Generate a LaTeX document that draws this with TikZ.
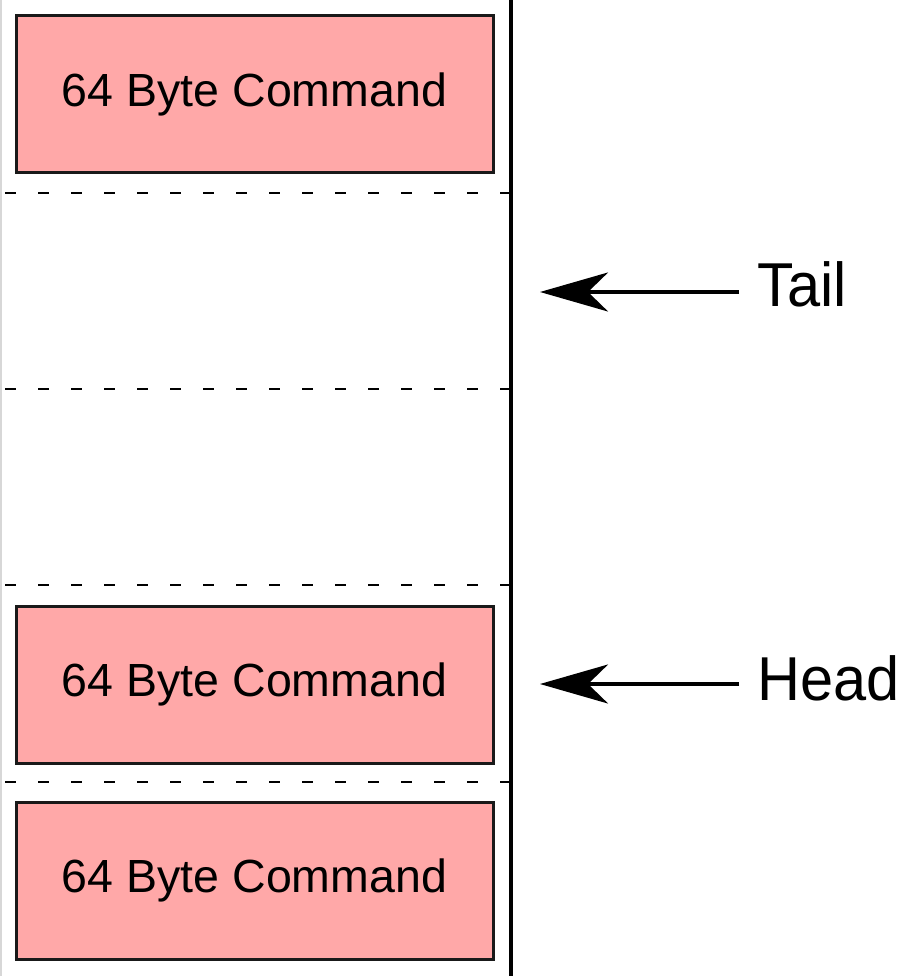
\documentclass[tikz,border=0pt]{standalone}
\usepackage{fontspec}
\setmainfont{Liberation Sans}
\usetikzlibrary{arrows.meta}

\definecolor{cmdfill}{RGB}{255,168,168}
\definecolor{edgegray}{RGB}{215,215,215}

\tikzset{
  cmdbox/.style={draw=black!90, line width=3pt, fill=cmdfill,
    minimum width=477pt, minimum height=157pt, inner sep=0pt,
    font=\fontsize{46.5}{52}\selectfont},
  slotsep/.style={line width=2.5pt, dash pattern=on 11pt off 22pt},
  pointer/.style={line width=3.5pt,
    -{Stealth[length=68pt, width=39pt, inset=20pt]}},
  ptrlabel/.style={anchor=base west, inner sep=0pt,
    font=\fontsize{62}{70}\selectfont}
}

\begin{document}
\begin{tikzpicture}[x=1pt, y=1pt]
  \useasboundingbox (0,0) rectangle (898,-976);

  % queue memory: left edge and right wall
  \draw[edgegray, line width=1.8pt] (0.9,0) -- (0.9,-976);
  \draw[line width=3.5pt] (511,0) -- (511,-976);

  % slot separators
  \foreach \y in {193,389,585,782}
    \draw[slotsep] (5,-\y) -- (511,-\y);

  % occupied slots
  \node[cmdbox] (cmdA) at (254.5,-94.5) {\raisebox{3pt}{64 Byte Command}};
  \node[cmdbox] (cmdB) at (254.5,-684.5) {\raisebox{3pt}{64 Byte Command}};
  \node[cmdbox] (cmdC) at (254.5,-880.5) {\raisebox{3pt}{64 Byte Command}};

  % tail and head pointers
  \node[ptrlabel] (tail) at (757,-306) {\scalebox{0.96}[1]{Tail}};
  \node[ptrlabel] (head) at (757,-700) {\scalebox{0.96}[1]{Head}};

  \coordinate (tailFrom) at (739,-292);
  \coordinate (tailTo) at (540,-292);
  \coordinate (headFrom) at (739,-684);
  \coordinate (headTo) at (540,-684);

  \draw[pointer] (tailFrom) -- (tailTo);
  \draw[pointer] (headFrom) -- (headTo);
\end{tikzpicture}
\end{document}
